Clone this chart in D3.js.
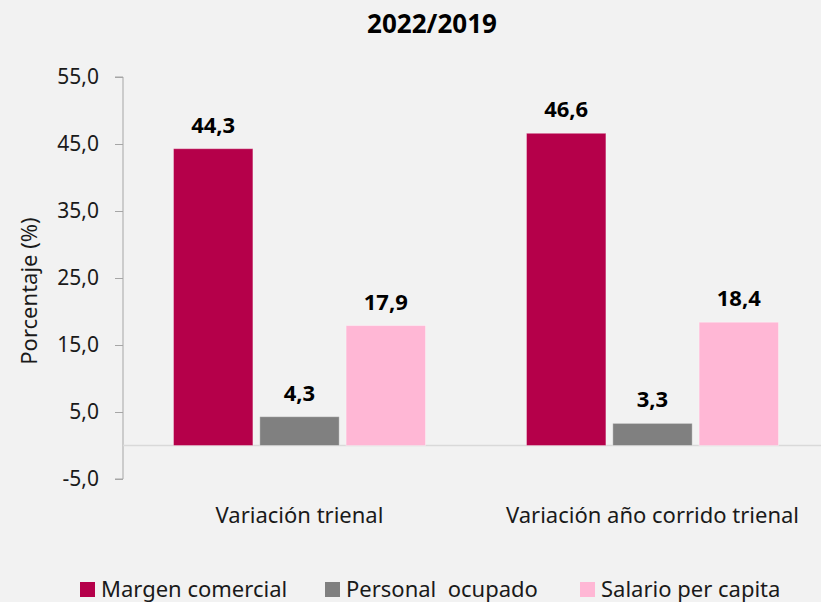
<!DOCTYPE html>
<html>
<head>
<meta charset="utf-8">
<script src="https://cdn.jsdelivr.net/npm/d3@7/dist/d3.min.js"></script>
<style>
  html, body { margin: 0; padding: 0; background: #f2f2f2; }
  svg { display: block; font-family: "Noto Sans", "Open Sans", sans-serif; }
</style>
</head>
<body>
<svg id="chart" width="821" height="602"></svg>
<script>
// Categories, series and values
const categories = ["Variación trienal", "Variación año corrido trienal"];
const seriesNames = ["Margen comercial", "Personal  ocupado", "Salario per capita"];
const margenComercial = [44.3, 46.6];
const personalOcupado = [4.3, 3.3];
const salarioPerCapita = [17.9, 18.4];
const yTicks = [-5, 5, 15, 25, 35, 45, 55];
const colors = ["#b5004a", "#808080", "#ffb7d5"];

const seriesValues = [margenComercial, personalOcupado, salarioPerCapita];
const fmt = v => d3.format(".1f")(v).replace(".", ",").replace("\u2212", "-");

const svg = d3.select("#chart");
const W = 821, H = 602;
const plotLeft = 123, plotTop = 77, plotBottom = 479;

const y = d3.scaleLinear().domain([-5, 55]).range([plotBottom, plotTop]);
const x0 = d3.scaleBand().domain(categories).range([plotLeft, plotLeft + 706]).paddingInner(0).paddingOuter(0);
const x1 = d3.scaleBand().domain(seriesNames).range([50.5, x0.bandwidth() - 50.5]).paddingInner(0.08).paddingOuter(0);

// Title
svg.append("text")
  .attr("x", 432).attr("y", 33)
  .attr("text-anchor", "middle")
  .attr("font-size", 26).attr("font-weight", "bold")
  .attr("fill", "#000")
  .text("2022/2019");

// Y axis
const yAxis = d3.axisLeft(y).tickValues(yTicks).tickSize(8).tickPadding(16).tickFormat(fmt);
const gy = svg.append("g").attr("transform", `translate(${plotLeft},0)`).call(yAxis);
gy.select(".domain").attr("stroke", "#a6a6a6").attr("d", `M-8,${plotTop}H0V${plotBottom}H-8`);
gy.selectAll(".tick line").attr("stroke", "#a6a6a6");
gy.selectAll(".tick text").attr("font-size", 21).attr("fill", "#1a1a1a")
  .attr("font-family", "'Noto Sans', sans-serif");

// Y axis title
svg.append("text")
  .attr("transform", `translate(37,291) rotate(-90)`)
  .attr("text-anchor", "middle")
  .attr("font-size", 22).attr("fill", "#1a1a1a")
  .text("Porcentaje (%)");

// Zero line
svg.append("line")
  .attr("x1", plotLeft).attr("x2", W)
  .attr("y1", y(0)).attr("y2", y(0))
  .attr("stroke", "#d9d9d9").attr("stroke-width", 1.5);

// Bars
const groups = svg.append("g").selectAll("g")
  .data(categories)
  .join("g")
  .attr("transform", d => `translate(${x0(d)},0)`);

groups.each(function(cat, ci) {
  const g = d3.select(this);
  seriesNames.forEach((s, si) => {
    const v = seriesValues[si][ci];
    g.append("rect")
      .attr("x", x1(s))
      .attr("y", y(Math.max(0, v)))
      .attr("width", x1.bandwidth())
      .attr("height", Math.abs(y(v) - y(0)))
      .attr("fill", colors[si])
      .attr("stroke", "#ffffff").attr("stroke-opacity", 0.35).attr("stroke-width", 1);
    g.append("text")
      .attr("x", x1(s) + x1.bandwidth() / 2)
      .attr("y", y(v) - 16)
      .attr("text-anchor", "middle")
      .attr("font-size", 22).attr("font-weight", "bold")
      .attr("fill", "#000")
      .text(fmt(v));
  });
});

// Category labels
svg.append("g").selectAll("text")
  .data(categories)
  .join("text")
  .attr("x", d => x0(d) + x1(seriesNames[1]) + x1.bandwidth() / 2)
  .attr("y", 523)
  .attr("text-anchor", "middle")
  .attr("font-size", 22).attr("fill", "#1a1a1a")
  .text(d => d);

// Legend
const legendX = [80, 325, 580];
const legend = svg.append("g").selectAll("g")
  .data(seriesNames)
  .join("g")
  .attr("transform", (d, i) => `translate(${legendX[i]},0)`);
legend.append("rect")
  .attr("x", 0).attr("y", 582).attr("width", 15).attr("height", 15)
  .attr("fill", (d, i) => colors[i]);
legend.append("text")
  .attr("x", 21).attr("y", 597)
  .attr("font-size", 22).attr("fill", "#1a1a1a")
  .style("white-space", "pre")
  .text(d => d);
</script>
</body>
</html>
